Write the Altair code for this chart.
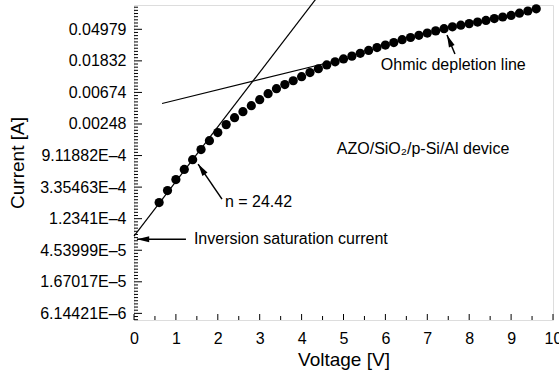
import altair as alt
import pandas as pd
import numpy as np

# ---- data ----
voltage = [0.6, 0.8, 1.0, 1.2, 1.4, 1.6, 1.8, 2.0, 2.2, 2.4, 2.6, 2.8, 3.0, 3.2, 3.4,
           3.6, 3.8, 4.0, 4.2, 4.4, 4.6, 4.8, 5.0, 5.2, 5.4, 5.6, 5.8, 6.0, 6.2, 6.4,
           6.6, 6.8, 7.0, 7.2, 7.4, 7.6, 7.8, 8.0, 8.2, 8.4, 8.6, 8.8, 9.0, 9.2, 9.4, 9.6]
ln_current = [-8.49, -8.11, -7.76, -7.44, -7.13, -6.81, -6.53, -6.27, -6.02, -5.80,
              -5.61, -5.42, -5.23, -5.04, -4.88, -4.75, -4.63, -4.50, -4.37, -4.25,
              -4.13, -4.03, -3.94, -3.85, -3.76, -3.67, -3.58, -3.50, -3.42, -3.33,
              -3.26, -3.19, -3.12, -3.05, -2.98, -2.92, -2.87, -2.82, -2.77, -2.72,
              -2.66, -2.61, -2.56, -2.49, -2.42, -2.35]

# fitted lines (start, end)
steep_x = [0.0, 4.335]
steep_y = [-9.55, -2.05]
ohmic_x = [0.67, 4.8]
ohmic_y = [-5.35, -4.004]

# y tick labels (ln I -> current in A)
y_tick_vals = [-12, -11, -10, -9, -8, -7, -6, -5, -4, -3]
y_tick_labels = ["6.14421E\u20136", "1.67017E\u20135", "4.53999E\u20135", "1.2341E\u20134",
                 "3.35463E\u20134", "9.11882E\u20134", "0.00248", "0.00674", "0.01832", "0.04979"]
x_tick_vals = [0, 1, 2, 3, 4, 5, 6, 7, 8, 9, 10]
x_minor_vals = [0.5, 1.5, 2.5, 3.5, 4.5, 5.5, 6.5, 7.5, 8.5, 9.5]
y_minor_vals = [round(v, 1) for v in np.arange(-12.2, -2.25, 0.1) if abs(v - round(v)) > 0.01]

# annotations
ann_text = ["n = 24.42", "Inversion saturation current", "Ohmic depletion line",
            "AZO/SiO\u2082/p-Si/Al device"]
ann_x = [2.17, 1.43, 5.89, 4.84]
ann_y = [-8.47, -9.65, -4.13, -6.79]

arrow_tail_x = [2.10, 1.24, 7.66]
arrow_tail_y = [-8.38, -9.65, -3.78]
arrow_head_x = [1.53, 0.07, 7.47]
arrow_head_y = [-7.27, -9.65, -3.18]
arrow_angle = [326, 270, 337]

FONT = "Liberation Sans"
W, H = 419, 315

xscale = alt.Scale(domain=[0, 10], nice=False, zero=False)
yscale = alt.Scale(domain=[-12.21, -2.23], nice=False, zero=False)

label_expr = " : ".join(
    f"round(datum.value) == {v} ? '{l}'" for v, l in zip(y_tick_vals, y_tick_labels)
) + " : ''"

x_axis = alt.Axis(values=x_tick_vals, format="d", title="Voltage [V]",
                  ticks=False, domain=False, grid=False, labelOverlap=False,
                  labelFlush=False, labelBound=False,
                  labelFont=FONT, labelFontSize=16, labelColor="black",
                  labelPadding=10, titleFont=FONT, titleFontSize=19,
                  titleFontWeight="normal", titleColor="black", titlePadding=4)
y_axis = alt.Axis(values=y_tick_vals, labelExpr=label_expr, title="Current [A]",
                  ticks=False, domain=False, grid=False, labelOverlap=False,
                  labelFlush=False, labelBound=False,
                  labelFont=FONT, labelFontSize=16, labelColor="black",
                  labelPadding=8, titleFont=FONT, titleFontSize=19,
                  titleFontWeight="normal", titleColor="black", titlePadding=12)

def X(f):
    return alt.X(f, scale=xscale, axis=x_axis, title="Voltage [V]")

def Y(f):
    return alt.Y(f, scale=yscale, axis=y_axis, title="Current [A]")

pts = pd.DataFrame({"V": voltage, "lnI": ln_current})
points = alt.Chart(pts).mark_circle(size=85, color="black", opacity=1).encode(
    x=X("V:Q"), y=Y("lnI:Q"),
)

fits = pd.DataFrame({
    "x": [steep_x[0], ohmic_x[0]], "x2": [steep_x[1], ohmic_x[1]],
    "y": [steep_y[0], ohmic_y[0]], "y2": [steep_y[1], ohmic_y[1]],
})
fit_lines = alt.Chart(fits).mark_rule(color="black", strokeWidth=1.2, clip=False).encode(
    x=X("x:Q"), x2="x2:Q", y=Y("y:Q"), y2="y2:Q",
)

arr = pd.DataFrame({"x": arrow_tail_x, "y": arrow_tail_y,
                    "x2": arrow_head_x, "y2": arrow_head_y, "angle": arrow_angle})
arrow_lines = alt.Chart(arr).mark_rule(color="black", strokeWidth=1.5).encode(
    x=X("x:Q"), x2="x2:Q", y=Y("y:Q"), y2="y2:Q",
)
arrow_heads = alt.Chart(arr).mark_point(
    shape="M0,0L0.5,2L-0.5,2Z", filled=True, color="black", opacity=1, size=150
).encode(
    x=X("x2:Q"), y=Y("y2:Q"),
    angle=alt.Angle("angle:Q", scale=None),
)

ann = pd.DataFrame({"t": ann_text, "x": ann_x, "y": ann_y})
texts = alt.Chart(ann).mark_text(align="left", baseline="middle", font=FONT,
                                 fontSize=16, color="black").encode(
    x=X("x:Q"), y=Y("y:Q"), text="t:N"
)

# inward ticks
def xticks(vals, length):
    return alt.Chart(pd.DataFrame({"v": vals})).mark_rule(color="black", strokeWidth=1).encode(
        x=X("v:Q"), y=alt.value(H), y2=alt.value(H - length))

def yticks(vals, length):
    return alt.Chart(pd.DataFrame({"v": vals})).mark_rule(color="black", strokeWidth=1).encode(
        y=Y("v:Q"), x=alt.value(0), x2=alt.value(length))

chart = alt.layer(
    points,
    xticks(x_tick_vals, 6), xticks(x_minor_vals, 4),
    yticks(y_tick_vals, 8), yticks(y_minor_vals, 4),
    fit_lines, arrow_lines, arrow_heads, texts,
).properties(
    width=W, height=H,
    autosize=alt.AutoSizeParams(type="none"),
    padding={"left": 134, "top": 5, "right": 6, "bottom": 57},
).configure_view(
    stroke="black", strokeWidth=1.5
).configure(background="white")

chart.save("out.html", embed_options={"renderer": "svg", "actions": False})
